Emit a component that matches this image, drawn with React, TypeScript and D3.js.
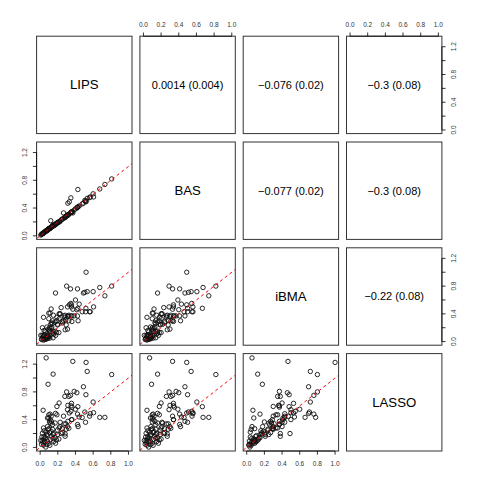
import React from 'react';
import * as d3 from 'd3';

const varNames = ['LIPS', 'BAS', 'iBMA', 'LASSO'];

const LIPS = [
  0.068, 0.37, 0.52, 0.147, 0.533, 0.81, 0.09, 0.49, 0.30, 0.385,
  0.416, 0.518, 0.28, 0.325, 0.344, 0.60, 0.215, 0.19, 0.314, 0.355,
  0.36, 0.427, 0.034, 0.113, 0.174, 0.31, 0.33, 0.348, 0.423, 0.506,
  0.567, 0.098, 0.125, 0.19, 0.106, 0.128, 0.227, 0.314, 0.355, 0.442,
  0.514, 0.733, 0.038, 0.083, 0.10, 0.14, 0.17, 0.272, 0.295, 0.325,
  0.026, 0.045, 0.076, 0.106, 0.147, 0.197, 0.253, 0.283, 0.023, 0.053,
  0.083, 0.113, 0.147, 0.185, 0.038, 0.076, 0.10, 0.064, 0.265, 0.083,
  0.098, 0.113, 0.12, 0.091, 0.068, 0.125, 0.14, 0.197, 0.215, 0.238,
  0.283, 0.31, 0.0075, 0.015, 0.05, 0.06, 0.40, 0.476, 0.56, 0.423,
  0.43, 0.223, 0.15, 0.132, 0.17, 0.212, 0.04, 0.045, 0.03, 0.155,
  0.175, 0.11, 0.08, 0.35, 0.36, 0.25, 0.29, 0.02, 0.605, 0.675,
];

const BAS = [
  0.07, 0.33, 0.49, 0.16, 0.54, 0.82, 0.092, 0.47, 0.29, 0.37,
  0.40, 0.50, 0.26, 0.31, 0.33, 0.605, 0.20, 0.18, 0.30, 0.34,
  0.35, 0.667, 0.04, 0.11, 0.16, 0.29, 0.49, 0.547, 0.41, 0.51,
  0.56, 0.10, 0.12, 0.18, 0.10, 0.13, 0.21, 0.47, 0.34, 0.43,
  0.50, 0.74, 0.04, 0.085, 0.10, 0.14, 0.16, 0.26, 0.28, 0.31,
  0.03, 0.05, 0.08, 0.11, 0.14, 0.19, 0.24, 0.27, 0.03, 0.06,
  0.08, 0.11, 0.14, 0.18, 0.04, 0.08, 0.10, 0.06, 0.33, 0.08,
  0.10, 0.11, 0.217, 0.09, 0.07, 0.12, 0.14, 0.19, 0.20, 0.23,
  0.27, 0.30, 0.01, 0.02, 0.05, 0.06, 0.39, 0.46, 0.55, 0.41,
  0.42, 0.21, 0.15, 0.13, 0.16, 0.20, 0.045, 0.05, 0.03, 0.15,
  0.17, 0.11, 0.08, 0.34, 0.34, 0.24, 0.28, 0.025, 0.56, 0.675,
];

const iBMA = [
  0.06, 0.467, 1.0, 0.124, 0.72, 0.80, 0.177, 0.70, 0.80, 0.37,
  0.46, 0.48, 0.35, 0.38, 0.76, 0.72, 0.40, 0.30, 0.36, 0.53,
  0.37, 0.48, 0.07, 0.15, 0.70, 0.50, 0.53, 0.55, 0.76, 0.71,
  0.43, 0.41, 0.47, 0.35, 0.20, 0.27, 0.40, 0.37, 0.50, 0.54,
  0.43, 0.66, 0.35, 0.06, 0.09, 0.26, 0.28, 0.37, 0.24, 0.30,
  0.20, 0.10, 0.21, 0.17, 0.15, 0.25, 0.27, 0.17, 0.09, 0.10,
  0.07, 0.09, 0.055, 0.13, 0.022, 0.04, 0.07, 0.036, 0.30, 0.08,
  0.33, 0.41, 0.25, 0.05, 0.04, 0.19, 0.30, 0.24, 0.33, 0.49,
  0.38, 0.18, 0.09, 0.03, 0.03, 0.14, 0.60, 0.43, 0.43, 0.37,
  0.30, 0.40, 0.38, 0.21, 0.15, 0.13, 0.08, 0.16, 0.05, 0.11,
  0.09, 0.05, 0.11, 0.37, 0.29, 0.29, 0.31, 0.04, 0.50, 0.78,
];

const LASSO = [
  1.29, 1.24, 1.225, 1.056, 1.095, 1.05, 0.91, 0.874, 0.80, 0.807,
  0.788, 0.76, 0.735, 0.735, 0.75, 0.654, 0.64, 0.59, 0.606, 0.635,
  0.58, 0.587, 0.535, 0.48, 0.49, 0.544, 0.496, 0.52, 0.48, 0.51,
  0.486, 0.424, 0.448, 0.47, 0.366, 0.376, 0.362, 0.376, 0.40, 0.439,
  0.362, 0.433, 0.28, 0.30, 0.27, 0.328, 0.352, 0.338, 0.262, 0.276,
  0.204, 0.156, 0.185, 0.213, 0.185, 0.185, 0.213, 0.194, 0.098, 0.08,
  0.089, 0.108, 0.127, 0.108, 0.032, 0.041, 0.06, 0.005, 0.45, 0.424,
  0.47, 0.40, 0.35, 0.26, 0.22, 0.23, 0.26, 0.25, 0.28, 0.20,
  0.16, 0.30, 0.10, 0.045, 0.09, 0.14, 0.55, 0.43, 0.45, 0.33,
  0.30, 0.30, 0.20, 0.16, 0.14, 0.12, 0.12, 0.24, 0.07, 0.085,
  0.06, 0.03, 0.17, 0.60, 0.40, 0.27, 0.34, 0.15, 0.50, 0.433,
];

const upperLabels = [
  { row: 0, col: 1, text: '0.0014 (0.004)' },
  { row: 0, col: 2, text: '\u22120.076 (0.02)' },
  { row: 0, col: 3, text: '\u22120.3 (0.08)' },
  { row: 1, col: 2, text: '\u22120.077 (0.02)' },
  { row: 1, col: 3, text: '\u22120.3 (0.08)' },
  { row: 2, col: 3, text: '\u22120.22 (0.08)' },
];

const xTicks = [0, 0.2, 0.4, 0.6, 0.8, 1.0];
const yTicks = [0, 0.2, 0.4, 0.6, 0.8, 1.0, 1.2];
const yTickLabels = [0, 0.4, 0.8, 1.2];

const columns = [LIPS, BAS, iBMA, LASSO];

const FONT = '"Liberation Sans", Arial, Helvetica, sans-serif';

export default function App() {
  const left0 = 36.6, W = 95.4, gapX = 7.9;
  const top0 = 36.2, H = 97.4, gapY = 8.4;
  const px = (c: number) => left0 + c * (W + gapX);
  const py = (r: number) => top0 + r * (H + gapY);

  const x = d3.scaleLinear().domain([-0.04, 1.04]).range([0, W]);
  const y = d3.scaleLinear().domain([-0.052, 1.352]).range([H, 0]);
  const tickLen = 3.7;
  const fmt = d3.format('.1f');
  const n = LIPS.length;
  const idx = d3.range(n);

  const panels: React.ReactNode[] = [];
  for (let r = 0; r < 4; r++) {
    for (let c = 0; c < 4; c++) {
      const key = `p${r}${c}`;
      const content: React.ReactNode[] = [];
      if (r === c) {
        content.push(
          <text key="t" x={W / 2} y={H / 2} textAnchor="middle" dominantBaseline="central"
            fontFamily={FONT} fontSize={13.2} fill="#000">{varNames[r]}</text>
        );
      } else if (r < c) {
        const lab = upperLabels.find(u => u.row === r && u.col === c);
        content.push(
          <text key="t" x={W / 2} y={H / 2} textAnchor="middle" dominantBaseline="central"
            fontFamily={FONT} fontSize={11} fill="#000">{lab ? lab.text : ''}</text>
        );
      } else {
        const xs = columns[c];
        const ys = columns[r];
        content.push(
          <g key="pts" clipPath={`url(#clip)`}>
            {idx.map(i => (
              <circle key={i} cx={x(xs[i])} cy={y(ys[i])} r={2.2} fill="none" stroke="#111" strokeWidth={0.9} />
            ))}
            <line x1={x(-0.04)} y1={y(-0.04)} x2={x(1.04)} y2={y(1.04)} stroke="#ff0000" strokeWidth={1} strokeDasharray="3,3" />
          </g>
        );
      }
      content.push(
        <rect key="box" x={0} y={0} width={W} height={H} fill="none" stroke="#333" strokeWidth={1} />
      );
      if (r === 0 && (c === 1 || c === 3)) {
        content.push(
          <g key="ax-top">
            <line x1={x(0)} x2={x(1)} y1={0} y2={0} stroke="#000" strokeWidth={0.8} />
            {xTicks.map(t => (
              <g key={t}>
                <line x1={x(t)} x2={x(t)} y1={0} y2={-tickLen} stroke="#000" strokeWidth={0.8} />
                <text x={x(t)} y={-11.7} textAnchor="middle" dominantBaseline="central" fontFamily={FONT} fontSize={6.5} fill="#333">{fmt(t)}</text>
              </g>
            ))}
          </g>
        );
      }
      if (r === 3 && (c === 0 || c === 2)) {
        content.push(
          <g key="ax-bot">
            <line x1={x(0)} x2={x(1)} y1={H} y2={H} stroke="#000" strokeWidth={0.8} />
            {xTicks.map(t => (
              <g key={t}>
                <line x1={x(t)} x2={x(t)} y1={H} y2={H + tickLen} stroke="#000" strokeWidth={0.8} />
                <text x={x(t)} y={H + 13} textAnchor="middle" dominantBaseline="central" fontFamily={FONT} fontSize={6.5} fill="#333">{fmt(t)}</text>
              </g>
            ))}
          </g>
        );
      }
      if (c === 0 && (r === 1 || r === 3)) {
        content.push(
          <g key="ax-left">
            <line x1={0} x2={0} y1={y(0)} y2={y(1.2)} stroke="#000" strokeWidth={0.8} />
            {yTicks.map(t => (
              <line key={t} x1={0} x2={-tickLen} y1={y(t)} y2={y(t)} stroke="#000" strokeWidth={0.8} />
            ))}
            {yTickLabels.map(t => (
              <text key={'l' + t} transform={`translate(${-12.4},${y(t)}) rotate(-90)`} textAnchor="middle" dominantBaseline="central" fontFamily={FONT} fontSize={6.5} fill="#333">{fmt(t)}</text>
            ))}
          </g>
        );
      }
      if (c === 3 && (r === 0 || r === 2)) {
        content.push(
          <g key="ax-right">
            <line x1={W} x2={W} y1={y(0)} y2={y(1.2)} stroke="#000" strokeWidth={0.8} />
            {yTicks.map(t => (
              <line key={t} x1={W} x2={W + tickLen} y1={y(t)} y2={y(t)} stroke="#000" strokeWidth={0.8} />
            ))}
            {yTickLabels.map(t => (
              <text key={'l' + t} transform={`translate(${W + 11.5},${y(t)}) rotate(-90)`} textAnchor="middle" dominantBaseline="central" fontFamily={FONT} fontSize={6.5} fill="#333">{fmt(t)}</text>
            ))}
          </g>
        );
      }
      panels.push(
        <g key={key} transform={`translate(${px(c)},${py(r)})`}>{content}</g>
      );
    }
  }

  return (
    <svg width={479} height={488} style={{ position: 'absolute', left: 0, top: 0, background: '#fff' }}>
      <defs>
        <clipPath id="clip">
          <rect x={0} y={0} width={W} height={H} />
        </clipPath>
      </defs>
      <rect x={0} y={0} width={479} height={488} fill="#fff" />
      {panels}
    </svg>
  );
}
